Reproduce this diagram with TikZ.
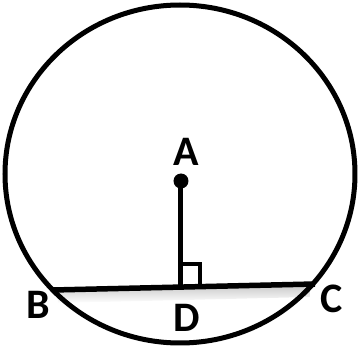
\documentclass[tikz,border=0pt]{standalone}
\usepackage{fontspec}
\setmainfont{Carlito}
\usepackage{tikz}
\usetikzlibrary{positioning}

\tikzset{
  lbl/.style={font=\fontsize{42}{42}\selectfont\bfseries, inner sep=0pt},
  thick line/.style={line width=5.5pt}
}

\begin{document}
\begin{tikzpicture}[x=1pt,y=-1pt]
  \useasboundingbox (0,0) rectangle (360,353);

  % shadow under the chord
  \shade[top color=gray!40,bottom color=white] (58,292) -- (310,286) -- (310,297) -- (58,303) -- cycle;

  \draw[line width=5pt] (180,174) ellipse (175 and 169);

  \coordinate (A) at (181,181);
  \coordinate (B) at (53,290);
  \coordinate (C) at (315,284);
  \coordinate (D) at (181,287);

  \draw[thick line] (B) -- (C);
  \draw[line width=5pt] (A) -- (D);
  \fill (A) circle (7.5);
  \draw[line width=4pt] (181,264) -- (200,264) -- (200,286);

  \node[lbl] (labA) at (186,152) {A};
  \node[lbl] (labB) at (38,305) {B};
  \node[lbl] (labC) at (332,299) {C};
  \node[lbl] (labD) at (187,318) {D};
\end{tikzpicture}
\end{document}
